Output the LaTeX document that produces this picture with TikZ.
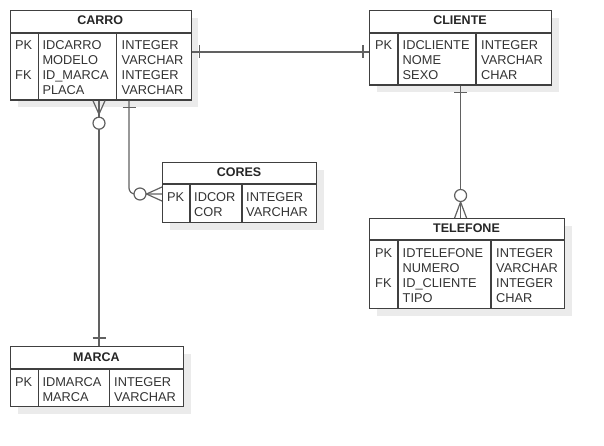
\documentclass[tikz,border=0pt]{standalone}
\usepackage{fontspec}
\setmainfont{Liberation Sans}
\usetikzlibrary{calc,shadows}

\begin{document}
\begin{tikzpicture}[
        x=1pt, y=-1pt,
        entity/.style={draw=black!75, line width=1.2pt, fill=white, inner sep=0pt, anchor=north west,
            drop shadow={shadow xshift=7pt, shadow yshift=-7pt, fill=black!8, opacity=1}},
        title/.style={font=\fontsize{12.5}{15}\selectfont\bfseries, text=black!85, anchor=base, inner sep=0pt},
        field/.style={font=\fontsize{12.8}{15}\selectfont, text=black!80, anchor=base west, inner sep=0pt},
        divider/.style={draw=black!75, line width=1.2pt},
        relation/.style={draw=black!62, line width=1.2pt},
        optional/.style={circle, draw=black!62, line width=1.2pt, fill=white, minimum size=12pt, inner sep=0pt}
    ]
        \useasboundingbox (0,0) rectangle (604,446);

        % Tables
        \node[entity, minimum width=180.5pt, minimum height=89.5pt] (carro) at (10,10) {};
        \node[title] (carro-t) at (100.25,25) {CARRO};
        \draw[divider] (10,33) -- (190.5,33) (38.3,33) -- (38.3,99.5) (116.7,33) -- (116.7,99.5);
        \foreach \k/\n/\t [count=\i from 0] in {PK/IDCARRO/INTEGER, /MODELO/VARCHAR, FK/ID\_MARCA/INTEGER, /PLACA/VARCHAR} {
            \node[field] (carro-k\i) at (15,{50+15*\i}) {\k};
            \node[field] (carro-n\i) at (42.3,{50+15*\i}) {\n};
            \node[field] (carro-y\i) at (121.5,{50+15*\i}) {\t};
        }

        \node[entity, minimum width=182pt, minimum height=74.5pt] (cliente) at (369,10) {};
        \node[title] (cliente-t) at (460,25) {CLIENTE};
        \draw[divider] (369,33) -- (551,33) (398,33) -- (398,84.5) (476,33) -- (476,84.5);
        \foreach \k/\n/\t [count=\i from 0] in {PK/IDCLIENTE/INTEGER, /NOME/VARCHAR, /SEXO/CHAR} {
            \node[field] (cliente-k\i) at (375,{50+15*\i}) {\k};
            \node[field] (cliente-n\i) at (402.5,{50+15*\i}) {\n};
            \node[field] (cliente-y\i) at (481,{50+15*\i}) {\t};
        }

        \node[entity, minimum width=154pt, minimum height=60pt] (cores) at (162,162) {};
        \node[title] (cores-t) at (239,177) {CORES};
        \draw[divider] (162,184) -- (316,184) (190,184) -- (190,222) (242,184) -- (242,222);
        \foreach \k/\n/\t [count=\i from 0] in {PK/IDCOR/INTEGER, /COR/VARCHAR} {
            \node[field] (cores-k\i) at (167,{202+15*\i}) {\k};
            \node[field] (cores-n\i) at (194,{202+15*\i}) {\n};
            \node[field] (cores-y\i) at (246,{202+15*\i}) {\t};
        }

        \node[entity, minimum width=195pt, minimum height=90pt] (telefone) at (369,218) {};
        \node[title] (telefone-t) at (466.5,233) {TELEFONE};
        \draw[divider] (369,240) -- (564,240) (398,240) -- (398,308) (491,240) -- (491,308);
        \foreach \k/\n/\t [count=\i from 0] in {PK/IDTELEFONE/INTEGER, /NUMERO/VARCHAR, FK/ID\_CLIENTE/INTEGER, /TIPO/CHAR} {
            \node[field] (telefone-k\i) at (375,{257.5+15*\i}) {\k};
            \node[field] (telefone-n\i) at (402.5,{257.5+15*\i}) {\n};
            \node[field] (telefone-y\i) at (496,{257.5+15*\i}) {\t};
        }

        \node[entity, minimum width=173pt, minimum height=60pt] (marca) at (10,346) {};
        \node[title] (marca-t) at (96.5,361) {MARCA};
        \draw[divider] (10,369) -- (183,369) (38.3,369) -- (38.3,406) (109.3,369) -- (109.3,406);
        \foreach \k/\n/\t [count=\i from 0] in {PK/IDMARCA/INTEGER, /MARCA/VARCHAR} {
            \node[field] (marca-k\i) at (15,{386+15*\i}) {\k};
            \node[field] (marca-n\i) at (42.3,{386+15*\i}) {\n};
            \node[field] (marca-y\i) at (114,{386+15*\i}) {\t};
        }

        % Relations (one to one)
        \draw[relation] ($(carro.north east)+(0,42)$) coordinate (cc-a) -- ($(cliente.north west)+(0,42)$) coordinate (cc-b);
        \draw[relation] ($(cc-a)+(8,-6.5)$) -- ++(0,13);
        \draw[relation] ($(cc-b)+(-6,-6.5)$) -- ++(0,13);

        % Relations (one to zero or many)
        \draw[relation] (cliente.south) -- (cliente.south |- telefone.north) coordinate (ct-b);
        \draw[relation] ($(cliente.south)+(-6.5,6.5)$) -- ++(13,0);
        \draw[relation] ($(ct-b)+(-6,0)$) -- ($(ct-b)+(0,-16)$) -- ($(ct-b)+(6,0)$);
        \node[optional] (ct-o) at ($(ct-b)+(0,-22.5)$) {};

        \draw[relation] ($(carro.south west)+(89,0)$) coordinate (cm-a) -- (cm-a |- marca.north) coordinate (cm-b);
        \draw[relation] ($(cm-b)+(-6.5,-8)$) -- ++(13,0);
        \draw[relation] ($(cm-a)+(-6,0)$) -- ($(cm-a)+(0,13.5)$) -- ($(cm-a)+(6,0)$);
        \node[optional] (cm-o) at ($(cm-a)+(0,22.5)$) {};

        \draw[relation, rounded corners=6pt] ($(carro.south west)+(119,0)$) coordinate (cr-a) -- (cr-a |- 0,194) -- ($(cores.north west)+(0,32)$) coordinate (cr-b);
        \draw[relation] ($(cr-a)+(-6.5,7)$) -- ++(13,0);
        \draw[relation] ($(cr-b)+(0,-7)$) -- ($(cr-b)+(-15.5,0)$) -- ($(cr-b)+(0,7)$);
        \node[optional] (cr-o) at ($(cr-b)+(-22,0)$) {};
    \end{tikzpicture}
\end{document}
